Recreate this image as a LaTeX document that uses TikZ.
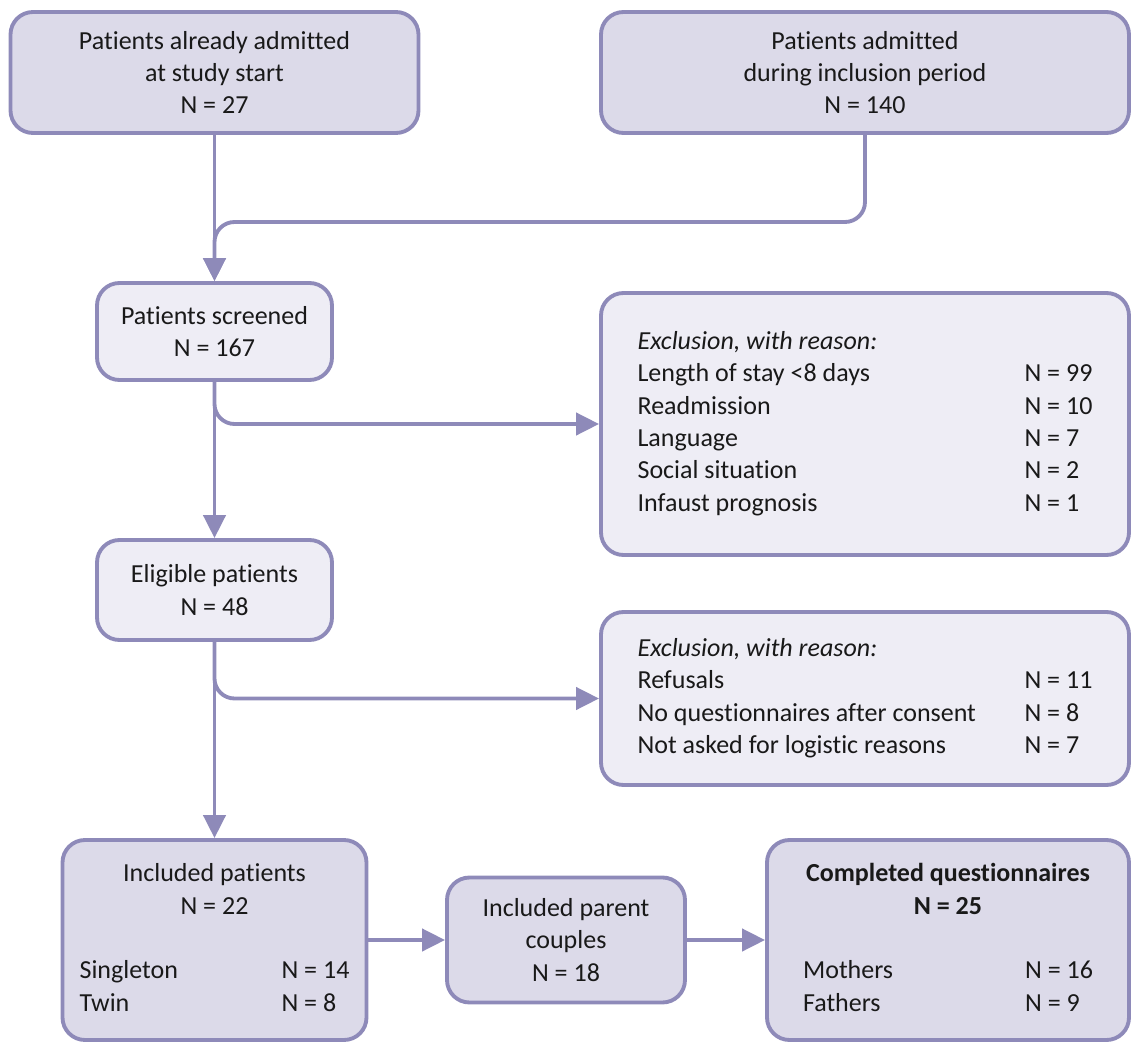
\documentclass[tikz,border=0pt]{standalone}
\usepackage{fontspec}
\setmainfont[Ligatures=NoCommon]{Carlito}
\usetikzlibrary{arrows.meta}
\definecolor{boxline}{HTML}{8E8AB9}
\definecolor{boxdark}{HTML}{DCDAE9}
\definecolor{boxlight}{HTML}{EEEDF5}
\tikzset{
  flowbox/.style={draw=boxline, line width=2.2pt, rounded corners=0.45cm, inner sep=0pt,
    align=center, text=black!90, font=\fontsize{14.8}{18.4}\selectfont},
  darkbox/.style={flowbox, fill=boxdark},
  lightbox/.style={flowbox, fill=boxlight},
  flow/.style={draw=boxline, line width=2.2pt, -{Triangle[width=12.5pt,length=13pt]}},
}
\begin{document}
\begin{tikzpicture}
    \useasboundingbox (0,0) rectangle (22.62,-20.84);
    % top row
    \node [darkbox, minimum width=8.16cm, minimum height=2.42cm] (start) at (4.29,-1.45)
        {Patients already admitted\\at study start\\N = 27};
    \node [darkbox, minimum width=10.56cm, minimum height=2.42cm] (period) at (17.3,-1.45)
        {Patients admitted\\during inclusion period\\N = 140};
    % screening
    \node [lightbox, minimum width=4.7cm, minimum height=1.94cm] (screened) at (4.29,-6.63)
        {Patients screened\\N = 167};
    \node [lightbox, minimum width=10.56cm, minimum height=5.24cm] (excl1) at (17.3,-8.48)
        {\begin{tabular}{@{}p{7.74cm}@{}l@{}}
        \textit{Exclusion, with reason:} & \\
        Length of stay <8 days & N = 99\\
        Readmission & N = 10\\
        Language & N = 7\\
        Social situation & N = 2\\
        Infaust prognosis & N = 1
        \end{tabular}};
    % eligibility
    \node [lightbox, minimum width=4.7cm, minimum height=2.0cm] (eligible) at (4.29,-11.8)
        {Eligible patients\\N = 48};
    \node [lightbox, minimum width=10.56cm, minimum height=3.46cm] (excl2) at (17.3,-13.97)
        {\begin{tabular}{@{}p{7.74cm}@{}l@{}}
        \textit{Exclusion, with reason:} & \\
        Refusals & N = 11\\
        No questionnaires after consent & N = 8\\
        Not asked for logistic reasons & N = 7
        \end{tabular}};
    % bottom row
    \node [darkbox, minimum width=6.08cm, minimum height=4.0cm] (included) at (4.29,-18.8)
        {\begin{tabular}{@{}p{4.04cm}@{}l@{}}
        \multicolumn{2}{@{}c@{}}{Included patients}\\
        \multicolumn{2}{@{}c@{}}{N = 22}\\
        & \\
        Singleton & N = 14\\
        Twin & N = 8
        \end{tabular}};
    \node [darkbox, minimum width=4.76cm, minimum height=2.5cm] (couples) at (11.32,-18.8)
        {Included parent\\couples\\N = 18};
    \node [darkbox, minimum width=7.24cm, minimum height=4.0cm] (completed) at (18.96,-18.8)
        {\begin{tabular}{@{}p{4.44cm}@{}l@{}}
        \multicolumn{2}{@{}c@{}}{\textbf{Completed questionnaires}}\\
        \multicolumn{2}{@{}c@{}}{\textbf{N = 25}}\\
        & \\
        Mothers & N = 16\\
        Fathers & N = 9
        \end{tabular}};
    % connectors
    \coordinate (join) at (4.29,-4.44);
    \draw [flow] (start) -- (screened);
    \draw [flow, rounded corners=0.4cm] (period.south) |- (join) -- (screened.north);
    \draw [flow] (screened) -- (eligible);
    \draw [flow, rounded corners=0.4cm] (screened.south) |- (excl1.west);
    \draw [flow] (eligible) -- (included);
    \draw [flow, rounded corners=0.4cm] (eligible.south) |- (excl2.west);
    \draw [flow] (included) -- (couples);
    \draw [flow] (couples) -- (completed);
\end{tikzpicture}
\end{document}
